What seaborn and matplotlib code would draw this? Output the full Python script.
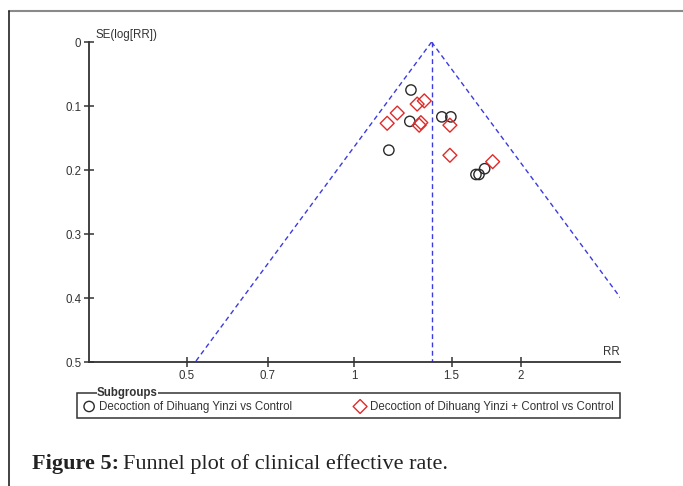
import numpy as np
import pandas as pd
import matplotlib
matplotlib.use("Agg")
import matplotlib.pyplot as plt
from matplotlib.lines import Line2D
from matplotlib.patches import Rectangle
import seaborn as sns

# ---- data ----
g1_label = "Decoction of Dihuang Yinzi vs Control"
g1_rr = [1.267, 1.261, 1.156, 1.44, 1.495, 1.659, 1.68, 1.72]
g1_se = [0.075, 0.124, 0.169, 0.117, 0.117, 0.207, 0.207, 0.198]

g2_label = "Decoction of Dihuang Yinzi + Control vs Control"
g2_rr = [1.148, 1.197, 1.300, 1.339, 1.311, 1.320, 1.489, 1.489, 1.778]
g2_se = [0.127, 0.111, 0.097, 0.092, 0.130, 0.126, 0.130, 0.177, 0.187]

pooled_rr = 1.38
se_max = 0.5
x_ticks = [0.5, 0.7, 1, 1.5, 2]
x_tick_labels = ["0.5", "0.7", "1", "1.5", "2"]
y_ticks = [0, 0.1, 0.2, 0.3, 0.4, 0.5]
y_tick_labels = ["0", "0.1", "0.2", "0.3", "0.4", "0.5"]

df = pd.DataFrame({
    "RR": g1_rr + g2_rr,
    "SE": g1_se + g2_se,
    "group": [g1_label] * len(g1_rr) + [g2_label] * len(g2_rr),
})

sns.set_style("white")
plt.rcParams["font.family"] = ["Liberation Sans", "DejaVu Sans"]

W, H = 683, 486
fig = plt.figure(figsize=(W / 100, H / 100), dpi=100)
ax = fig.add_axes([89 / W, 1 - 362 / H, (620 - 89) / W, (362 - 42) / H])

blue = "#3b3be0"
# funnel lines
se_line = np.array([0.0, se_max])
left_x = np.exp(np.log(pooled_rr) - 1.96 * se_line)
right_x = np.exp(np.log(pooled_rr) + 1.96 * se_line)
ax.plot(left_x, se_line, ls=(0, (3.5, 2.5)), color=blue, lw=1.0, zorder=1)
ax.plot(right_x, se_line, ls=(0, (3.5, 2.5)), color=blue, lw=1.0, zorder=1, clip_on=True)
ax.plot([pooled_rr, pooled_rr], [0, se_max], ls=(0, (3.5, 2.5)), color=blue, lw=1.0, zorder=1)

d1 = df[df["group"] == g1_label]
d2 = df[df["group"] == g2_label]
sns.scatterplot(data=d1, x="RR", y="SE", marker="o", s=55, facecolor="none",
                edgecolor="#2a2a2a", linewidth=1.0, ax=ax, label=g1_label, zorder=3)
sns.scatterplot(data=d2, x="RR", y="SE", marker="D", s=50, facecolor="none",
                edgecolor="#e02a2a", linewidth=1.0, ax=ax, label=g2_label, zorder=3)

ax.set_xscale("log")
ax.set_xlim(1 / 3, 3.015)
ax.set_ylim(se_max, 0)
ax.set_xticks(x_ticks)
ax.set_xticklabels(x_tick_labels)
ax.xaxis.set_minor_locator(matplotlib.ticker.NullLocator())
ax.set_yticks(y_ticks)
ax.set_yticklabels(y_tick_labels)

for s in ["top", "right"]:
    ax.spines[s].set_visible(False)
for s in ["left", "bottom"]:
    ax.spines[s].set_color("#333333")
    ax.spines[s].set_linewidth(1.3)
ax.tick_params(axis="both", direction="inout", length=7, width=1.1, color="#333333",
               labelsize=8.3, labelcolor="#333333", left=True, bottom=True)
ax.tick_params(axis="y", pad=2)
ax.tick_params(axis="x", pad=2)

ax.set_ylabel("SE(log[RR])", rotation=0, ha="left", va="center", fontsize=8.3, color="#333333")
ax.yaxis.set_label_coords(0.013, 1.022)
ax.set_xlabel("RR", ha="right", va="bottom", fontsize=8.3, color="#333333")
ax.xaxis.set_label_coords(1.0, 0.012)

# legend (entries) + hand-drawn group box
handles, labels = ax.get_legend_handles_labels()
leg = ax.legend(handles, labels, ncol=2, mode="expand",
                bbox_to_anchor=(77 / W, 1 - 406.5 / H, 543 / W, 0),
                bbox_transform=fig.transFigure, loc="center left",
                frameon=False, fontsize=8.3, handletextpad=0.35,
                borderpad=0.55, borderaxespad=0, handlelength=1.0, markerscale=1.0)
for t in leg.get_texts():
    t.set_color("#333333")
fig.add_artist(Rectangle((77 / W, 1 - 418 / H), 543 / W, 25 / H, transform=fig.transFigure,
                         facecolor="none", edgecolor="#333333", lw=1.1, zorder=5))
fig.text(97 / W, 1 - 393 / H, "Subgroups", fontsize=8.3, fontweight="bold",
         color="#333333", ha="left", va="center",
         bbox=dict(facecolor="white", edgecolor="none", pad=0.3), zorder=10)

# figure border decorations
fig.add_artist(Line2D([9 / W, 1], [1 - 11 / H, 1 - 11 / H], color="#8a8a8a", lw=1.5,
                      transform=fig.transFigure))
fig.add_artist(Line2D([9 / W, 9 / W], [0, 1 - 11 / H], color="#222222", lw=1.2,
                      transform=fig.transFigure))

# caption
t1 = fig.text(32 / W, 1 - 469 / H, "Figure 5:", fontsize=16, fontweight="bold",
              family=["Liberation Serif", "DejaVu Serif"], color="#222222", va="baseline")
fig.canvas.draw()
bb = t1.get_window_extent(renderer=fig.canvas.get_renderer())
fig.text((bb.x1 + 4) / W, 1 - 469 / H, "Funnel plot of clinical effective rate.", fontsize=16,
         family=["Liberation Serif", "DejaVu Serif"], color="#222222", va="baseline")

fig.savefig("out.png", dpi=100)
